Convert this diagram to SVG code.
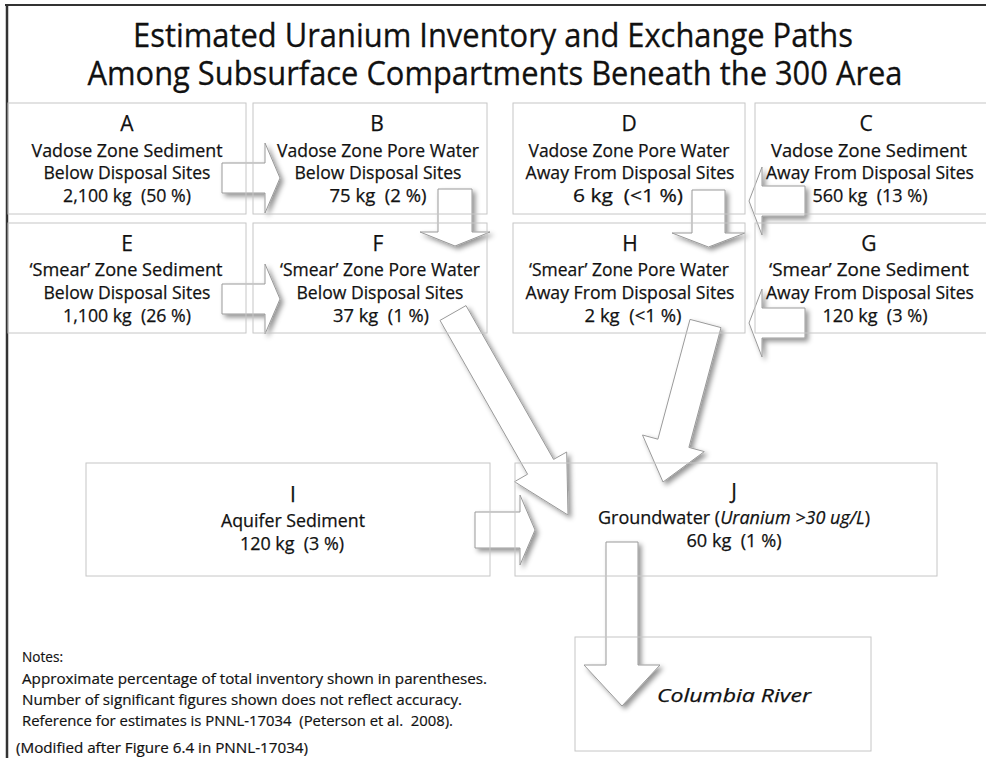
<svg xmlns="http://www.w3.org/2000/svg" width="986" height="758" viewBox="0 0 986 758">
  <defs>
    <filter id="shadow" x="-30%" y="-30%" width="170%" height="170%">
      <feDropShadow dx="3" dy="3" stdDeviation="2.5" flood-color="#000" flood-opacity="0.42"/>
    </filter>
    <style>
      .box { fill: none; stroke: #c6c6c6; stroke-width: 1; }
      .arrow { fill: #fff; stroke: #9a9a9a; stroke-width: 1; filter: url(#shadow); }
      .t { font-family: "Open Sans", "Noto Sans", "DejaVu Sans", sans-serif; fill: #111; stroke: #111; stroke-width: 0.25; text-anchor: middle; font-size: 18.5px; }
      .key { font-size: 21px; }
      .title { font-family: "Open Sans", "Noto Sans", sans-serif; fill: #111; stroke: #111; stroke-width: 0.3; text-anchor: middle; font-size: 32px; }
      .note { font-family: "Open Sans", "Noto Sans", sans-serif; fill: #111; stroke: #111; stroke-width: 0.2; font-size: 15px; }
      .frame { stroke: #333; fill: none; }
    </style>
  </defs>

  <rect width="986" height="758" fill="#fff"/>
  <!-- page frame -->
  <line class="frame" x1="5" y1="5" x2="986" y2="5" stroke-width="2"/>
  <line class="frame" x1="7" y1="4" x2="7" y2="758" stroke-width="2.5"/>

  <!-- title -->
  <text class="title" x="493" y="47" textLength="720" lengthAdjust="spacingAndGlyphs">Estimated Uranium Inventory and Exchange Paths</text>
  <text class="title" x="495" y="85" textLength="815" lengthAdjust="spacingAndGlyphs">Among Subsurface Compartments Beneath the 300 Area</text>

  <!-- exchange paths -->
  <g id="connectors">
    <polygon id="A-B" class="arrow" points="222,163 265,163 265,143 280,178 265,213 265,193 222,193"/>
    <polygon id="E-F" class="arrow" points="222,284 265,284 265,264 280,299 265,334 265,314 222,314"/>
    <polygon id="B-F" class="arrow" points="438,189 472,189 472,232 490,232 455,246 420,232 438,232"/>
    <polygon id="D-H" class="arrow" points="692,190 725,190 725,233 745,233 708.5,247 672,233 692,233"/>
    <polygon id="C-D" class="arrow" points="805,186 762,186 762,167 749,201 762,235 762,216 805,216"/>
    <polygon id="G-H" class="arrow" points="805,308 762,308 762,289 749,323 762,357 762,338 805,338"/>
    <polygon id="F-J" class="arrow" points="466,305.6 553.6,459.4 566.7,452 568,515 514.5,481.7 527.6,474.2 440,320.4"/>
    <polygon id="H-J" class="arrow" points="721,327.6 688.9,447.4 704.3,451.6 663,482 642.5,435 657.9,439.2 690,319.4"/>
    <polygon id="I-J" class="arrow" points="475,512 520,512 520,495 535,530 520,565 520,548 475,548"/>
    <polygon id="J-River" class="arrow" points="606,542 638,542 638,665 660,665 622,706 584,665 606,665"/>
  </g>

  <g id="A">
    <rect class="box" x="8" y="103" width="238" height="111"/>
    <text class="t key" x="127" y="131">A</text>
    <text class="t" x="127" y="157" textLength="191" lengthAdjust="spacingAndGlyphs">Vadose Zone Sediment</text>
    <text class="t" x="127" y="179" textLength="167" lengthAdjust="spacingAndGlyphs">Below Disposal Sites</text>
    <text class="t" x="127" y="202" textLength="128" lengthAdjust="spacingAndGlyphs">2,100 kg&#160; (50 %)</text>
  </g>

  <g id="B">
    <rect class="box" x="253" y="103" width="234" height="111"/>
    <text class="t key" x="377" y="131">B</text>
    <text class="t" x="378" y="157" textLength="202" lengthAdjust="spacingAndGlyphs">Vadose Zone Pore Water</text>
    <text class="t" x="378" y="179" textLength="167" lengthAdjust="spacingAndGlyphs">Below Disposal Sites</text>
    <text class="t" x="378" y="202" textLength="97" lengthAdjust="spacingAndGlyphs">75 kg&#160; (2 %)</text>
  </g>

  <g id="D">
    <rect class="box" x="513" y="103" width="232" height="111"/>
    <text class="t key" x="629" y="131">D</text>
    <text class="t" x="629" y="157" textLength="201" lengthAdjust="spacingAndGlyphs">Vadose Zone Pore Water</text>
    <text class="t" x="630" y="179" textLength="209" lengthAdjust="spacingAndGlyphs">Away From Disposal Sites</text>
    <text class="t" x="628" y="202" textLength="110" lengthAdjust="spacingAndGlyphs">6 kg&#160; (&lt;1 %)</text>
  </g>

  <g id="C">
    <rect class="box" x="755" y="103" width="240" height="111"/>
    <text class="t key" x="866" y="131">C</text>
    <text class="t" x="869" y="157" textLength="196" lengthAdjust="spacingAndGlyphs">Vadose Zone Sediment</text>
    <text class="t" x="870" y="179" textLength="208" lengthAdjust="spacingAndGlyphs">Away From Disposal Sites</text>
    <text class="t" x="870" y="202" textLength="115" lengthAdjust="spacingAndGlyphs">560 kg&#160; (13 %)</text>
  </g>

  <g id="E">
    <rect class="box" x="8" y="223" width="238" height="110"/>
    <text class="t key" x="127" y="251">E</text>
    <text class="t" x="126" y="276" textLength="193" lengthAdjust="spacingAndGlyphs">‘Smear’ Zone Sediment</text>
    <text class="t" x="127" y="299" textLength="167" lengthAdjust="spacingAndGlyphs">Below Disposal Sites</text>
    <text class="t" x="127" y="322" textLength="128" lengthAdjust="spacingAndGlyphs">1,100 kg&#160; (26 %)</text>
  </g>

  <g id="F">
    <rect class="box" x="253" y="223" width="234" height="110"/>
    <text class="t key" x="378" y="251">F</text>
    <text class="t" x="380" y="276" textLength="200" lengthAdjust="spacingAndGlyphs">‘Smear’ Zone Pore Water</text>
    <text class="t" x="380" y="299" textLength="167" lengthAdjust="spacingAndGlyphs">Below Disposal Sites</text>
    <text class="t" x="381" y="322" textLength="96" lengthAdjust="spacingAndGlyphs">37 kg&#160; (1 %)</text>
  </g>

  <g id="H">
    <rect class="box" x="513" y="223" width="232" height="110"/>
    <text class="t key" x="630" y="251">H</text>
    <text class="t" x="629" y="276" textLength="200" lengthAdjust="spacingAndGlyphs">‘Smear’ Zone Pore Water</text>
    <text class="t" x="630" y="299" textLength="209" lengthAdjust="spacingAndGlyphs">Away From Disposal Sites</text>
    <text class="t" x="633" y="322" textLength="97" lengthAdjust="spacingAndGlyphs">2 kg&#160; (&lt;1 %)</text>
  </g>

  <g id="G">
    <rect class="box" x="755" y="223" width="240" height="110"/>
    <text class="t key" x="869" y="251">G</text>
    <text class="t" x="869" y="276" textLength="200" lengthAdjust="spacingAndGlyphs">‘Smear’ Zone Sediment</text>
    <text class="t" x="870" y="299" textLength="208" lengthAdjust="spacingAndGlyphs">Away From Disposal Sites</text>
    <text class="t" x="875" y="322" textLength="105" lengthAdjust="spacingAndGlyphs">120 kg&#160; (3 %)</text>
  </g>

  <g id="I">
    <rect class="box" x="86" y="463" width="404" height="113"/>
    <text class="t key" x="293" y="502">I</text>
    <text class="t" x="293" y="527" textLength="144" lengthAdjust="spacingAndGlyphs">Aquifer Sediment</text>
    <text class="t" x="292" y="550" textLength="104" lengthAdjust="spacingAndGlyphs">120 kg&#160; (3 %)</text>
  </g>

  <g id="J">
    <rect class="box" x="515" y="463" width="422" height="113"/>
    <text class="t key" x="734" y="499">J</text>
    <text class="t" x="734" y="524" textLength="272" lengthAdjust="spacingAndGlyphs">Groundwater (<tspan font-style="italic">Uranium &gt;30 ug/L</tspan>)</text>
    <text class="t" x="734" y="547" textLength="95" lengthAdjust="spacingAndGlyphs">60 kg&#160; (1 %)</text>
  </g>

  <g id="ColumbiaRiver">
    <rect class="box" x="575" y="637" width="296" height="114"/>
    <text class="t" x="734" y="702" font-size="24" font-style="italic" textLength="154" lengthAdjust="spacingAndGlyphs">Columbia River</text>
  </g>

  <!-- notes -->
  <g id="notes">
    <text class="note" x="22" y="662" textLength="41" lengthAdjust="spacingAndGlyphs">Notes:</text>
    <text class="note" x="22" y="684" textLength="465" lengthAdjust="spacingAndGlyphs">Approximate percentage of total inventory shown in parentheses.</text>
    <text class="note" x="22" y="705" textLength="440" lengthAdjust="spacingAndGlyphs">Number of significant figures shown does not reflect accuracy.</text>
    <text class="note" x="22" y="726" textLength="431" lengthAdjust="spacingAndGlyphs">Reference for estimates is PNNL-17034&#160; (Peterson et al.&#160; 2008).</text>
    <text class="note" x="16" y="753" textLength="292" lengthAdjust="spacingAndGlyphs">(Modified after Figure 6.4 in PNNL-17034)</text>
  </g>
</svg>
